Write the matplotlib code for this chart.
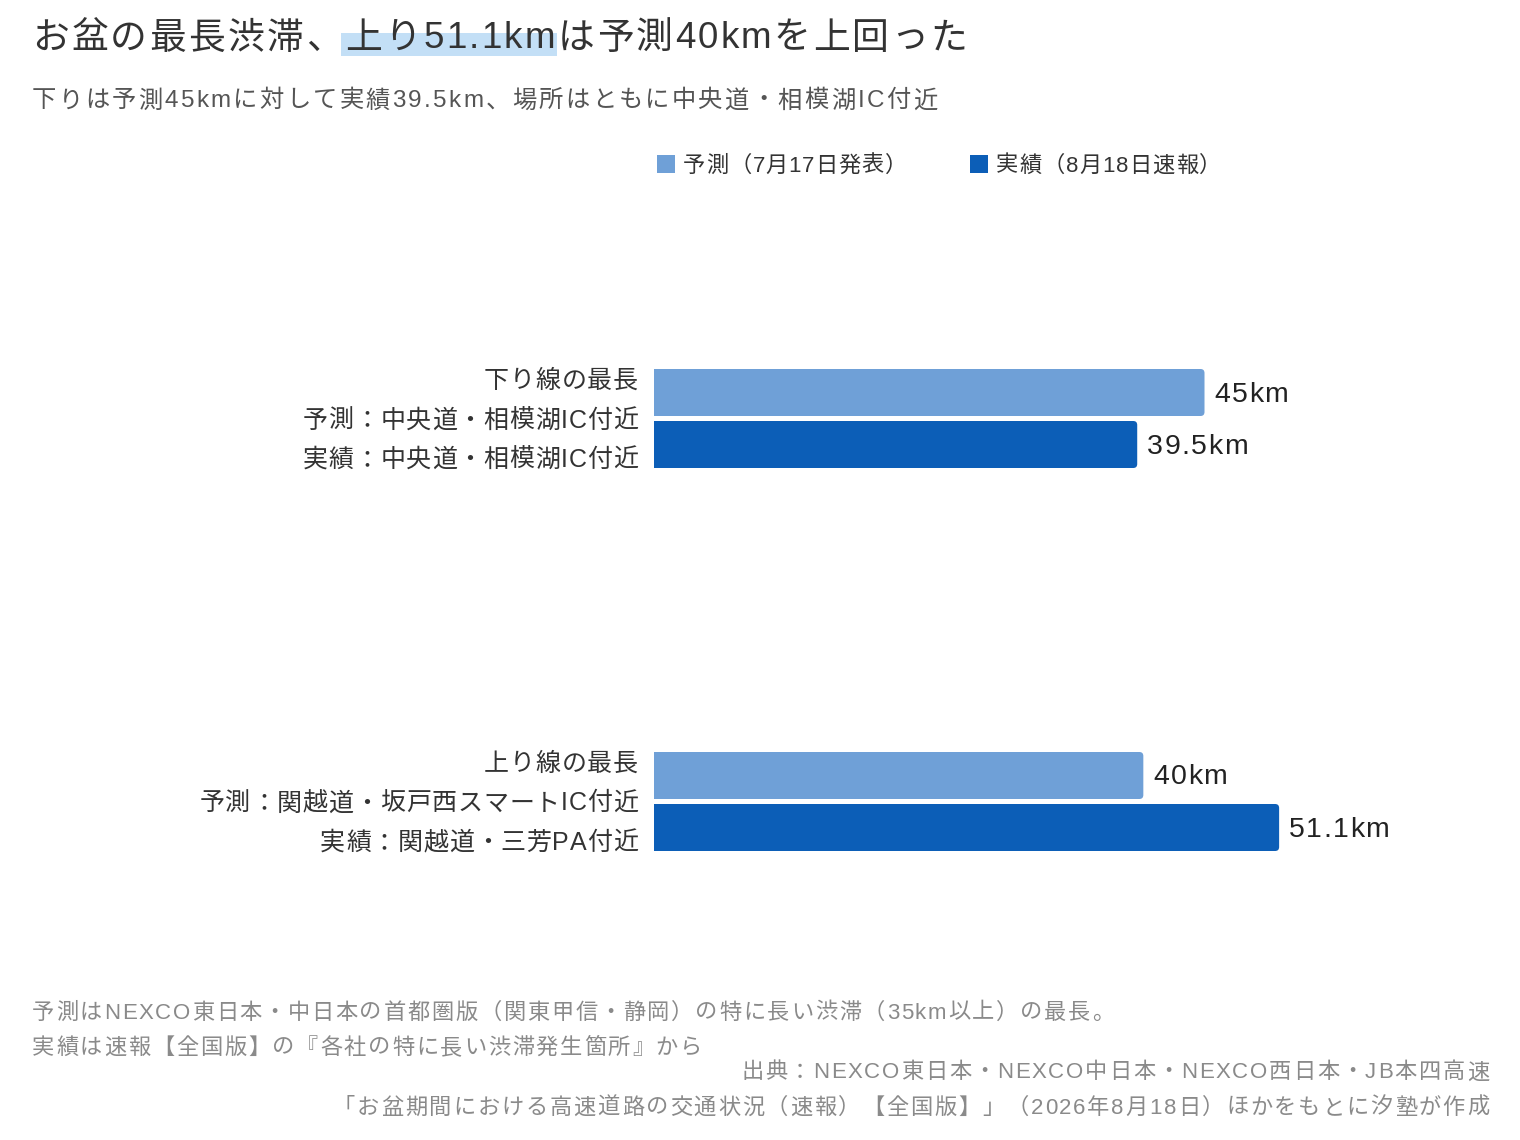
'''
お盆の最長渋滞: 予測と実績の比較（横棒グラフ）
'''

from matplotlib import pyplot as pl
from matplotlib.patches import FancyBboxPatch, Rectangle
from matplotlib.font_manager import FontProperties

# Latin glyphs from Liberation Sans, Japanese from Noto Sans CJK JP
FAM = ['Liberation Sans', 'Noto Sans CJK JP', 'DejaVu Sans']
pl.rcParams['font.family'] = FAM

# Data
groups = ['下り線の最長', '上り線の最長']
forecast_place = ['中央道・相模湖IC付近', '関越道・坂戸西スマートIC付近']
actual_place = ['中央道・相模湖IC付近', '関越道・三芳PA付近']
forecast_km = [45, 40]
actual_km = [39.5, 51.1]
series_names = ['予測（7月17日発表）', '実績（8月18日速報）']

title_parts = ['お盆の最長渋滞、', '上り51.1km', 'は予測40kmを上回った']
subtitle = '下りは予測45kmに対して実績39.5km、場所はともに中央道・相模湖IC付近'
notes = ['予測はNEXCO東日本・中日本の首都圏版（関東甲信・静岡）の特に長い渋滞（35km以上）の最長。',
         '実績は速報【全国版】の『各社の特に長い渋滞発生箇所』から']
source = ['出典：NEXCO東日本・NEXCO中日本・NEXCO西日本・JB本四高速',
          '「お盆期間における高速道路の交通状況（速報）【全国版】」（2026年8月18日）ほかをもとに汐塾が作成']

c_fore = '#6fa0d7'
c_act = '#0c5eb7'
c_text = '#333333'

W, H = 1520, 1140
fig = pl.figure(figsize=(W/100, H/100), dpi=100)
renderer = fig.canvas.get_renderer()


def spaced(x, y, s, size, color, track=0.0, ha='left', width=None):
    '''Draw s char by char with letter spacing; x, y in display pixels,
    y is the vertical centre of the line. Returns char starts and advances.'''
    fp = FontProperties(family=FAM, size=size)

    def meas(t):
        return renderer.get_text_width_height_descent(t, fp, ismath=False)

    bar = meas('||')[0]
    advs = [meas('|' + c + '|')[0] - bar for c in s]
    if width is not None:
        track = (width - sum(advs)) / (len(s) - 1)
    total = sum(advs) + track*(len(s) - 1)
    if ha == 'right':
        x -= total
    _, h, d = meas(s)
    _, lh, ld = meas('lp')
    h, d = max(h, lh), max(d, ld)
    base = y - h/2 + d - 2
    starts = []
    for c, a in zip(s, advs):
        starts.append(x)
        fig.text(x/W, base/H, c, fontproperties=fp, color=color,
                 ha='left', va='baseline', zorder=3)
        x += a + track
    return starts, advs


# Axes placed in pixels: x from 654, 12.23 px per km; groups 383 px apart
ax = fig.add_axes([654/W, (H-993)/H, 734/W, 766/H])
ax.set_xlim(0, 60)
ax.set_ylim(1.5, -0.5)
ax.axis('off')

bh = 47/383
off = 26/383
rx = 4/12.23  # corner radius in km
asp = (4/383)/rx

for i in range(len(groups)):
    for val, yc, col in [(forecast_km[i], i-off, c_fore), (actual_km[i], i+off, c_act)]:
        p = FancyBboxPatch((-rx, yc-bh/2), val+rx, bh,
                           boxstyle='round,pad=0,rounding_size=%f' % rx,
                           mutation_aspect=asp, facecolor=col, edgecolor='none')
        ax.add_patch(p)
        p.set_clip_path(ax.patch)
        px, py = ax.transData.transform((val, yc))
        spaced(px + 10, py, '%gkm' % val, 20.5, '#222222', track=1.3)

    lines = [groups[i], '予測：'+forecast_place[i], '実績：'+actual_place[i]]
    px, py = ax.transData.transform((0, i))
    for k, txt in enumerate(lines):
        spaced(px - 16, py + (1-k)*39.5, txt, 18, c_text, track=0.8, ha='right')

# Title with highlighted segment
title = ''.join(title_parts)
starts, advs = spaced(32, H-37, title, 26.5, c_text, width=935)
i0 = len(title_parts[0])
i1 = i0 + len(title_parts[1])
hx0 = starts[i0] - 4
hx1 = starts[i1-1] + advs[i1-1] + 2
fig.patches.append(Rectangle((hx0/W, (H-56)/H), (hx1-hx0)/W, 23/H,
                             transform=fig.transFigure, facecolor='#c3dff6',
                             edgecolor='none', zorder=1))

spaced(32, H-99, subtitle, 17.5, '#555555', width=905)

# Legend
for name, col, lx, lw in zip(series_names, [c_fore, c_act], [657, 970], [224, 225]):
    fig.patches.append(Rectangle((lx/W, (H-173)/H), 18/W, 18/H, transform=fig.transFigure,
                                 facecolor=col, edgecolor='none'))
    spaced(lx + 26, H-164, name, 16, c_text, width=lw)

# Notes and source
for k, (txt, tw) in enumerate(zip(notes, [1082, 670])):
    spaced(32, H-(1011+35*k), txt, 16, '#8a8a8a', width=tw)
for k, (txt, tw) in enumerate(zip(source, [748, 1156])):
    spaced(1489, H-(1071+35*k), txt, 16, '#8a8a8a', ha='right', width=tw)

pl.savefig('out.png', dpi=100, facecolor='white')
pl.close('all')
